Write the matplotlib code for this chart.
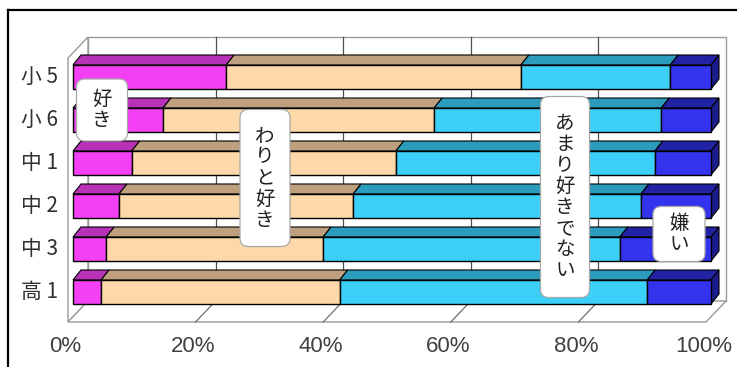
import numpy as np
import matplotlib.pyplot as plt
from matplotlib.patches import Polygon, FancyBboxPatch
from matplotlib.lines import Line2D

plt.rcParams['font.family'] = ['Noto Sans CJK JP', 'DejaVu Sans']

# data (percent)
groups = ['小 5', '小 6', '中 1', '中 2', '中 3', '高 1']
like = [24.0, 14.1, 9.2, 7.2, 5.2, 4.4]
fairly = [46.2, 42.5, 41.4, 36.7, 34.0, 37.4]
not_really = [23.4, 35.6, 40.6, 45.1, 46.5, 48.2]
dislike = [6.4, 7.8, 8.8, 11.0, 14.3, 10.0]
answers = ['好き', 'わりと好き', 'あまり好きでない', '嫌い']
xticks = [0, 20, 40, 60, 80, 100]

front_cols = ['#f440f4', '#fdd8a8', '#3ccff8', '#3434ee']
top_cols = ['#b832b8', '#bfa07e', '#2c9cbc', '#2222a4']
side_col = '#1c1c8c'

# pixel scale of the fake 3d view
PX_X = 6.38   # px per percent
PX_Y = 43.0   # px per row

def off(dx, dy):
    # pixel offset -> data offset (y axis is inverted)
    return dx / PX_X, dy / PX_Y

fig = plt.figure(figsize=(7.37, 3.67), dpi=100)
ax = fig.add_axes([0, 0, 1, 1])
ax.set_xlim(-73 / PX_X, (737 - 73) / PX_X)
ax.set_ylim((367 - 77) / PX_Y, -77 / PX_Y)
ax.axis('off')

# walls and floor
fx, fy = off(-5, 0)
bx, by = off(15, -21)
wall_top = (58 - 77) / PX_Y
floor = (322 - 77) / PX_Y
wc = '#9a9a9a'
back = Polygon([(0 + bx, wall_top + by), (100 + bx, wall_top + by),
                (100 + bx, floor + by), (0 + bx, floor + by)],
               closed=True, fc='white', ec=wc, lw=1, zorder=1)
left = Polygon([(0 + fx, wall_top), (0 + bx, wall_top + by),
                (0 + bx, floor + by), (0 + fx, floor)],
               closed=True, fc='white', ec=wc, lw=1, zorder=1)
flr = Polygon([(0 + fx, floor), (100 + fx, floor),
               (100 + bx, floor + by), (0 + bx, floor + by)],
              closed=True, fc='white', ec=wc, lw=1, zorder=1)
for p in (back, left, flr):
    ax.add_patch(p)

for t in xticks[1:-1]:
    ax.plot([t + bx, t + bx], [wall_top + by, floor + by], color='#505050', lw=0.9, zorder=2)
    ax.plot([t + fx, t + bx], [floor, floor + by], color='#707070', lw=0.9, zorder=2)

# bars
h = 12 / PX_Y
ddx, ddy = off(8, -10)
series = [like, fairly, not_really, dislike]
for i in range(len(groups)):
    start = 0
    y0, y1 = i - h, i + h
    for k, vals in enumerate(series):
        end = start + vals[i]
        ax.add_patch(Polygon([(start, y0), (end, y0), (end, y1), (start, y1)],
                             closed=True, fc=front_cols[k], ec='black', lw=1, zorder=4))
        ax.add_patch(Polygon([(start, y0), (end, y0), (end + ddx, y0 + ddy),
                              (start + ddx, y0 + ddy)],
                             closed=True, fc=top_cols[k], ec='black', lw=0.8, zorder=3))
        start = end
    ax.add_patch(Polygon([(start, y0), (start + ddx, y0 + ddy), (start + ddx, y1 + ddy),
                          (start, y1)], closed=True, fc=side_col, ec='black', lw=0.8, zorder=3))

# category labels
for i, g in enumerate(groups):
    ax.text(-2.3, i, g, ha='right', va='center', fontsize=15, color='#303030')

for t in xticks:
    ax.text(t + fx - 0.4, (346 - 77) / PX_Y, f'{t}%', ha='center', va='center',
            fontsize=16, color='#404040', family=['Liberation Sans', 'DejaVu Sans'])

# labels in rounded boxes
boxes = [((102, 110), (51, 62)), ((265, 178), (50, 137)),
         ((565, 197), (49, 201)), ((679, 234), (52, 55))]
for name, ((cx, cy), (w, hh)) in zip(answers, boxes):
    xc, yc = (cx - 73) / PX_X, (cy - 77) / PX_Y
    wd, ht = w / PX_X, hh / PX_Y
    ax.add_patch(FancyBboxPatch((xc - wd / 2, yc - ht / 2), wd, ht,
                                boxstyle='round,pad=0,rounding_size=1.3',
                                mutation_aspect=PX_X / PX_Y,
                                fc='white', ec='#a8a8a8', lw=0.9, zorder=8))
    ax.text(xc, yc, '\n'.join(name), ha='center', va='center', fontsize=14,
            linespacing=1.0, color='#202020', zorder=9)

# outer frame (top and left edges only in view)
fig.add_artist(Line2D([8 / 737, 1], [1 - 10 / 367, 1 - 10 / 367],
                      transform=fig.transFigure, color='black', lw=1.6))
fig.add_artist(Line2D([8 / 737, 8 / 737], [0, 1 - 10 / 367],
                      transform=fig.transFigure, color='black', lw=1.6))

fig.savefig('out.png', dpi=100)
